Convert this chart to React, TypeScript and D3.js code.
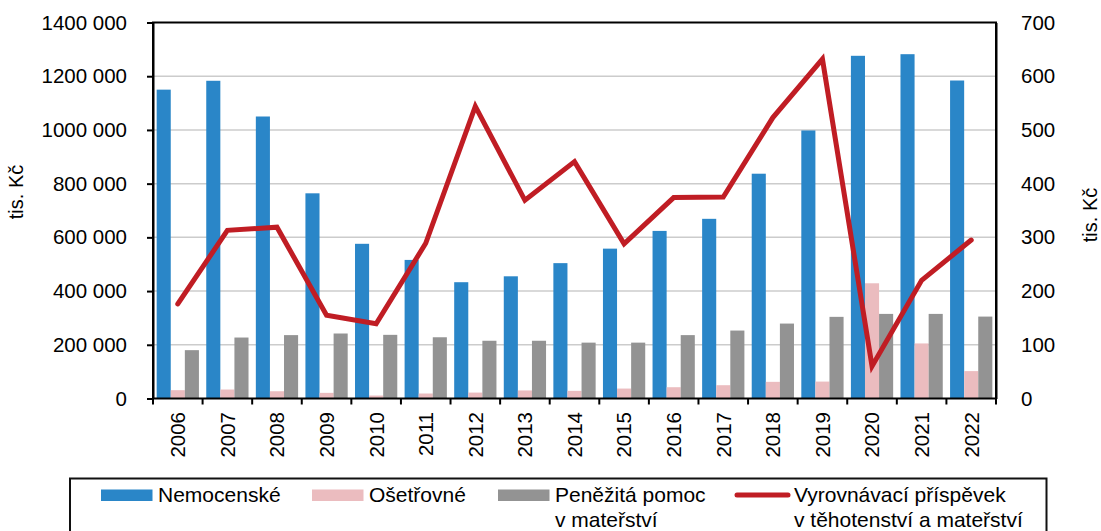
import React, { useEffect, useRef } from "react";
import * as d3 from "d3";

// Years on the x axis
const years = [
  "2006", "2007", "2008", "2009", "2010", "2011", "2012", "2013", "2014",
  "2015", "2016", "2017", "2018", "2019", "2020", "2021", "2022",
];

// Bars, left axis (tis. Kč)
const nemocenske = [
  1150000, 1183000, 1050000, 764000, 576000, 516000, 433000, 455000, 504000,
  558000, 624000, 669000, 837000, 998000, 1276000, 1282000, 1184000,
];
const osetrovne = [
  31000, 33500, 27000, 21000, 11000, 18600, 22000, 30000, 28500,
  37000, 42000, 49500, 62000, 63000, 429000, 205000, 102000,
];
const penezitaPomoc = [
  180000, 227000, 236000, 242000, 237000, 228000, 215000, 215000, 208000,
  208000, 236000, 253000, 279000, 304000, 315000, 315000, 305000,
];

// Line, right axis (tis. Kč)
const vyrovnavaci = [
  176, 313, 319, 155, 139, 289, 544, 369, 441,
  288, 374, 375, 523, 632, 60, 220, 295,
];

const leftTicks = [0, 200000, 400000, 600000, 800000, 1000000, 1200000, 1400000];
const rightTicks = [0, 100, 200, 300, 400, 500, 600, 700];

const barSeries = [
  { name: "Nemocenské", values: nemocenske, color: "#2a86c8" },
  { name: "Ošetřovné", values: osetrovne, color: "#ebbcbf" },
  { name: "Peněžitá pomoc", values: penezitaPomoc, color: "#939393" },
];
const lineColor = "#c01d24";

const fmt = (v: number) => {
  if (v < 1000) return String(v);
  const s = String(v);
  return s.slice(0, s.length - 3) + " " + s.slice(s.length - 3);
};

const Chart = () => {
  const svgRef = useRef<SVGSVGElement | null>(null);

  useEffect(() => {
    if (!svgRef.current) return;
    const svg = d3.select(svgRef.current);
    svg.selectAll("*").remove();

    const width = 1101;
    const height = 531;
    const left = 153;
    const right = 996;
    const top = 22.5;
    const bottom = 398.5;
    const font = "'Liberation Sans', Arial, sans-serif";

    svg.attr("width", width).attr("height", height);

    const x0 = d3.scaleBand().domain(years).range([left, right]).padding(0);
    const x1 = d3
      .scaleBand()
      .domain(barSeries.map((s) => s.name))
      .range([0, x0.bandwidth()])
      .paddingInner(0)
      .paddingOuter(0.26);
    const yL = d3.scaleLinear().domain([0, 1400000]).range([bottom, top]);
    const yR = d3.scaleLinear().domain([0, 700]).range([bottom, top]);

    // gridlines
    svg
      .append("g")
      .selectAll("line")
      .data(leftTicks.slice(1, -1))
      .join("line")
      .attr("x1", left)
      .attr("x2", right)
      .attr("y1", (d) => yL(d))
      .attr("y2", (d) => yL(d))
      .attr("stroke", "#cccccc")
      .attr("stroke-width", 1.5);

    // bars
    barSeries.forEach((s) => {
      svg
        .append("g")
        .selectAll("rect")
        .data(s.values)
        .join("rect")
        .attr("x", (_, i) => (x0(years[i]) as number) + (x1(s.name) as number))
        .attr("width", x1.bandwidth())
        .attr("y", (d) => yL(d))
        .attr("height", (d) => bottom - yL(d))
        .attr("fill", s.color);
    });

    // line
    const line = d3
      .line<number>()
      .x((_, i) => (x0(years[i]) as number) + x0.bandwidth() / 2)
      .y((d) => yR(d));
    svg
      .append("path")
      .datum(vyrovnavaci)
      .attr("d", line)
      .attr("fill", "none")
      .attr("stroke", lineColor)
      .attr("stroke-width", 5)
      .attr("stroke-linejoin", "miter")
      .attr("stroke-linecap", "round");

    // frame
    svg
      .append("rect")
      .attr("x", left)
      .attr("y", top)
      .attr("width", right - left)
      .attr("height", bottom - top)
      .attr("fill", "none")
      .attr("stroke", "#000")
      .attr("stroke-width", 2);

    // left axis
    const gL = svg
      .append("g")
      .attr("transform", `translate(${left},0)`)
      .call(
        d3
          .axisLeft(yL)
          .tickValues(leftTicks)
          .tickFormat((d) => fmt(d as number))
          .tickSizeInner(6)
          .tickSizeOuter(0)
          .tickPadding(20)
      );
    gL.select(".domain").attr("stroke-width", 2);
    gL.selectAll(".tick line").attr("stroke-width", 2);
    gL.selectAll("text")
      .attr("font-family", font)
      .attr("font-size", 20.5)
      .attr("fill", "#000");

    // right axis
    const gR = svg
      .append("g")
      .attr("transform", `translate(${right},0)`)
      .call(
        d3
          .axisRight(yR)
          .tickValues(rightTicks)
          .tickSizeInner(0)
          .tickSizeOuter(0)
          .tickPadding(25)
      );
    gR.select(".domain").attr("stroke-width", 2);
    gR.selectAll("text")
      .attr("font-family", font)
      .attr("font-size", 20.5)
      .attr("fill", "#000");

    // bottom axis: ticks at category boundaries
    const gB = svg.append("g");
    gB.selectAll("line")
      .data([...years.map((y) => x0(y) as number), right])
      .join("line")
      .attr("x1", (d) => d)
      .attr("x2", (d) => d)
      .attr("y1", bottom)
      .attr("y2", bottom + 6)
      .attr("stroke", "#000")
      .attr("stroke-width", 2);
    gB.selectAll("text")
      .data(years)
      .join("text")
      .attr(
        "transform",
        (d) => `translate(${(x0(d) as number) + x0.bandwidth() / 2},412) rotate(-90)`
      )
      .attr("text-anchor", "end")
      .attr("dy", "0.36em")
      .attr("font-family", font)
      .attr("font-size", 20.5)
      .text((d) => d);

    // axis titles
    svg
      .append("text")
      .attr("transform", "translate(22.5,192) rotate(-90)")
      .attr("text-anchor", "middle")
      .attr("font-family", font)
      .attr("font-size", 20)
      .text("tis. Kč");
    svg
      .append("text")
      .attr("transform", "translate(1097,215) rotate(-90)")
      .attr("text-anchor", "middle")
      .attr("font-family", font)
      .attr("font-size", 20)
      .text("tis. Kč");

    // legend
    const lg = svg.append("g");
    lg.append("rect")
      .attr("x", 70)
      .attr("y", 478.5)
      .attr("width", 1046.5 - 70)
      .attr("height", 80)
      .attr("fill", "#fff")
      .attr("stroke", "#111")
      .attr("stroke-width", 2);

    const items = [
      { sx: 101, tx: 158, lines: ["Nemocenské"], color: barSeries[0].color, kind: "rect" },
      { sx: 312, tx: 369, lines: ["Ošetřovné"], color: barSeries[1].color, kind: "rect" },
      { sx: 498, tx: 555, lines: ["Peněžitá pomoc", "v mateřství"], color: barSeries[2].color, kind: "rect" },
      { sx: 737, tx: 794, lines: ["Vyrovnávací příspěvek", "v těhotenství a mateřství"], color: lineColor, kind: "line" },
    ];
    items.forEach((it) => {
      if (it.kind === "rect") {
        lg.append("rect")
          .attr("x", it.sx)
          .attr("y", 489.5)
          .attr("width", 51.5)
          .attr("height", 11.5)
          .attr("fill", it.color);
      } else {
        lg.append("line")
          .attr("x1", it.sx)
          .attr("x2", it.sx + 51)
          .attr("y1", 495)
          .attr("y2", 495)
          .attr("stroke", it.color)
          .attr("stroke-width", 5)
          .attr("stroke-linecap", "round");
      }
      it.lines.forEach((t, j) => {
        lg.append("text")
          .attr("x", it.tx)
          .attr("y", 501.5 + j * 25)
          .attr("font-family", font)
          .attr("font-size", 21)
          .text(t);
      });
    });
  }, []);

  return <svg ref={svgRef} style={{ position: "absolute", left: 0, top: 0 }}></svg>;
};

export default function App() {
  return <Chart />;
}
